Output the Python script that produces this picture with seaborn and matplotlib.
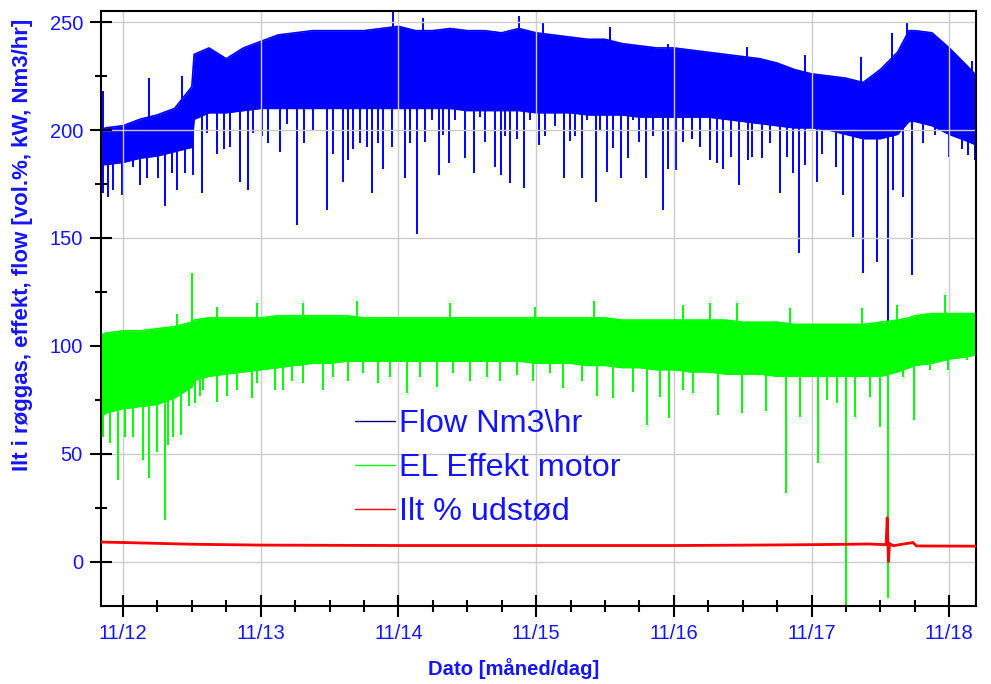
import numpy as np
import pandas as pd
import matplotlib
matplotlib.use("Agg")
import matplotlib.pyplot as plt
from matplotlib.lines import Line2D
from matplotlib.ticker import FixedLocator, MultipleLocator
import seaborn as sns

# ---------------- data (hours since 11/12 00:00) ----------------
hours = [-3.8, -3, 0, 3, 6, 9, 12, 12.4, 15, 18, 21, 24, 27, 30, 33, 36, 39, 42, 45, 48,
         51, 54, 57, 60, 63, 66, 69, 72, 75, 78, 81, 84, 87, 90, 93, 96, 99, 102, 105, 108,
         111, 114, 117, 120, 123, 126, 129, 132, 135, 137, 138, 141, 144, 147, 148.8]

# Flow Nm3/hr : dense core (top / bottom of the solid band)
flow_high = [200, 201, 202, 205, 207, 210, 220, 235, 238, 233, 238, 241, 244, 245, 246, 246, 246, 246, 247, 248,
             246, 246, 247, 246, 246, 245, 247, 245, 244, 243, 242, 242, 240, 239, 238, 238, 237, 236, 235, 234,
             233, 231, 228, 226, 225, 224, 222, 228, 236, 246, 246, 245, 238, 230, 225]
flow_low = [184, 184, 185, 187, 188, 190, 192, 205, 208, 208, 209, 210, 210, 210, 210, 210, 210, 210, 210, 210,
            210, 210, 210, 209, 209, 209, 209, 208, 208, 208, 207, 207, 207, 206, 206, 206, 206, 206, 205, 204,
            203, 202, 201, 201, 200, 198, 196, 196, 198, 204, 204, 202, 198, 195, 193]

# EL Effekt motor : dense core
el_high = [105, 106, 107, 107, 108, 109, 111, 112, 113, 113, 113, 113, 114, 114, 114, 114, 114, 113, 113, 113,
           113, 113, 113, 113, 113, 113, 113, 113, 113, 113, 113, 113, 112, 112, 112, 112, 112, 112, 112, 111,
           111, 111, 110, 110, 110, 110, 110, 111, 112, 113, 114, 115, 115, 115, 115]
el_low = [67, 69, 71, 72, 73, 76, 81, 84, 86, 87, 88, 89, 90, 91, 92, 92, 93, 93, 93, 93,
          93, 93, 93, 93, 93, 93, 93, 92, 92, 92, 91, 91, 90, 90, 89, 89, 88, 88, 87, 87,
          87, 86, 86, 86, 86, 86, 86, 86, 88, 90, 91, 92, 94, 95, 96]

# isolated downward strokes of the flow signal (time [h], value)
flow_dip_t = [-3.49, -2.61, -1.74, -0.17, 1.74, 2.96, 4.18, 6.10, 7.32, 8.54, 9.41, 10.81, 12.20, 13.77,
              14.64, 16.38, 17.60, 18.65, 20.39, 21.79, 22.66, 24.23, 25.27, 27.36, 28.58, 30.33, 31.55,
              33.12, 35.56, 36.60, 38.35, 39.22, 40.09, 41.31, 42.53, 43.40, 44.44, 45.32, 46.88, 49.15,
              50.02, 51.24, 52.64, 53.86, 55.08, 55.77, 56.82, 57.87, 59.61, 61.18, 62.22, 63.09, 64.84,
              65.88, 66.58, 67.45, 68.67, 69.89, 70.94, 72.50, 73.55, 75.29, 76.86, 77.91, 78.78, 80.00,
              80.87, 82.44, 83.14, 84.36, 85.40, 86.80, 88.02, 88.89, 89.93, 91.16, 92.38, 94.12, 94.99,
              96.38, 97.60, 99.17, 100.57, 102.31, 103.53, 104.58, 105.97, 107.37, 108.93, 109.63, 111.37,
              112.77, 114.51, 115.73, 116.78, 117.82, 118.87, 120.96, 121.83, 124.27, 125.49, 127.23,
              128.98, 131.42, 133.33, 134.20, 135.94, 137.51, 139.43, 141.52, 143.96, 146.23, 147.28, 148.50]
flow_dip_v = [171, 169, 172, 170, 183, 174.5, 178, 178, 165, 180, 172, 180, 179, 171,
              198.6, 189, 191, 192, 176, 172, 198.6, 197, 194, 190, 203, 156, 194,
              200, 163, 189, 176, 186, 191, 194, 192, 171, 194, 182, 192, 178,
              194, 152, 194.5, 204.6, 179, 197.7, 184.7, 204.6, 187, 180, 206, 194.5, 183,
              179, 197, 175.5, 196, 173, 204.6, 193, 197, 202, 178, 195, 197, 177.8,
              204.6, 166.7, 200, 180.6, 191.7, 178, 187, 204.6, 194.5, 177.8, 197, 163, 182,
              181.5, 194.5, 196, 192, 186, 184.7, 182, 187.5, 174.5, 186, 187.5, 187,
              194, 171, 187.5, 180, 143, 183.8, 176, 189, 183, 170, 150.5,
              134, 139, 90, 172, 169, 133, 194, 197.7, 187.5, 191, 188.4, 186]
# upward strokes of the flow signal
flow_peak_t = [-3.49, 4.53, 10.28, 47.06, 52.29, 69.02, 73.20, 84.88, 94.99, 108.76, 118.87, 128.63,
               134.03, 136.64, 147.97]
flow_peak_v = [218, 224, 225, 255, 252, 253, 250, 247.7, 240, 238.4, 234.7, 233.8,
               245, 249.6, 232]

el_dip_t = [-3.49, -2.27, -0.87, 0.35, 1.74, 3.49, 4.53, 5.93, 7.32, 7.84, 8.71, 10.11, 11.50, 12.55,
            13.42, 13.94, 16.38, 18.13, 19.87, 22.48, 23.36, 26.49, 27.89, 29.46, 31.37, 34.86, 36.60,
            39.22, 41.83, 44.44, 46.54, 49.50, 51.76, 54.73, 57.52, 60.48, 63.44, 65.71, 68.67, 71.46,
            74.42, 76.69, 80.00, 82.61, 85.40, 88.89, 91.33, 93.59, 95.16, 97.60, 99.35, 103.70,
            107.89, 112.07, 115.56, 118.00, 121.14, 122.70, 124.45, 126.01, 127.58, 130.19, 131.94,
            133.33, 135.94, 137.86, 140.65, 143.79, 147.10]
el_dip_v = [58, 55, 38, 58, 58, 47, 39, 51, 19.5, 54, 58, 59, 72, 73.6,
            77, 79.6, 74, 77, 79.6, 76, 83, 79.6, 79.6, 84, 82.8, 79.6, 85.7,
            84, 87.5, 83, 85.7, 78, 85.7, 81, 87.5, 84, 85.7, 84, 86.6, 84,
            87.5, 80.6, 84, 77, 76, 78.7, 63.4, 76.4, 66.7, 79.6, 78, 68,
            69, 70, 32, 67, 46, 75, 73.6, -20, 67, 76.4, 62.5,
            -16.7, 85.7, 65.7, 89, 89, 93.5]
el_peak_t = [9.41, 12.03, 16.38, 23.36, 31.37, 40.78, 56.99, 71.81, 82.09, 97.60, 102.31, 107.02,
             116.26, 128.81, 134.90, 143.27]
el_peak_v = [115, 134, 118, 120, 120, 121, 120, 118, 120.8, 119, 120, 120,
             117.6, 117.6, 119, 123.6]

ilt_t = [-3.8, 0, 12, 24, 48, 72, 96, 110, 120, 130, 133.0, 133.2, 133.4, 133.6, 134.2,
         137.7, 138.3, 148.8]
ilt_v = [9.2, 9.0, 8.2, 7.8, 7.6, 7.6, 7.6, 7.8, 8.0, 8.3, 8.0, 20.5, 0.2, 8.5, 7.5,
         9.0, 7.4, 7.3]

day_ticks = [0, 24, 48, 72, 96, 120, 144]
day_labels = ["11/12", "11/13", "11/14", "11/15", "11/16", "11/17", "11/18"]
series_names = ["Flow Nm3\\hr", "EL Effekt motor", "Ilt % udstød"]

# ---------------- style ----------------
sns.set_style("white")
plt.rcParams["font.family"] = ["Liberation Sans", "DejaVu Sans"]
BLUE = "#0000ff"
GREEN = "#00ff00"
RED = "#ff0000"
TXT = "#1414ff"

fig = plt.figure(figsize=(9.91, 6.84), dpi=100)
ax = fig.add_axes([101 / 991, 1 - 606 / 684, 875 / 991, 595 / 684])

h = np.array(hours, dtype=float)


def band(hi, lo, color, z):
    hi = np.array(hi, float)
    lo = np.array(lo, float)
    ax.fill_between(h, lo, hi, color=color, lw=0, zorder=z)
    df = pd.DataFrame({"t": np.concatenate([h, h]),
                       "v": np.concatenate([hi, lo]),
                       "edge": ["hi"] * len(h) + ["lo"] * len(h)})
    sns.lineplot(data=df, x="t", y="v", units="edge", estimator=None, color=color,
                 lw=1.2, ax=ax, zorder=z, legend=False)
    return (hi + lo) / 2


def strokes(ts, vs, mid, color, z):
    ts = np.array(ts, float)
    vs = np.array(vs, float)
    base = np.interp(ts, h, mid)
    ax.vlines(ts, np.minimum(base, vs), np.maximum(base, vs), color=color, lw=1.4, zorder=z)


mid_flow = band(flow_high, flow_low, BLUE, 1.0)
strokes(flow_dip_t, flow_dip_v, mid_flow, BLUE, 1.0)
strokes(flow_peak_t, flow_peak_v, mid_flow, BLUE, 1.0)
mid_el = band(el_high, el_low, GREEN, 2.0)
strokes(el_dip_t, el_dip_v, mid_el, GREEN, 2.0)
strokes(el_peak_t, el_peak_v, mid_el, GREEN, 2.0)
sns.lineplot(x=ilt_t, y=ilt_v, color=RED, lw=2.0, ax=ax, zorder=3, estimator=None, sort=False)

# ---------------- axes ----------------
ax.set_xlim(-3.83, 148.67)
ax.set_ylim(-20.4, 255.1)
ax.xaxis.set_major_locator(FixedLocator(day_ticks))
ax.set_xticklabels(day_labels)
ax.xaxis.set_minor_locator(MultipleLocator(6))
ax.yaxis.set_major_locator(MultipleLocator(50))
ax.yaxis.set_minor_locator(MultipleLocator(25))
ax.tick_params(which="major", direction="inout", length=16, width=1.5, color="black",
               labelsize=14.5, labelcolor=TXT, bottom=True, left=True, pad=5)
ax.tick_params(which="minor", direction="inout", length=9, width=1.5, color="black",
               bottom=True, left=True)
ax.set_axisbelow("line")
ax.grid(True, which="major", color="#cccccc", lw=1.0)
for s in ax.spines.values():
    s.set_color("black")
    s.set_linewidth(1.5)
    s.set_visible(True)

ax.set_xlabel("Dato [måned/dag]", color=TXT, fontsize=14.6, fontweight="bold")
ax.set_ylabel("Ilt i røggas, effekt, flow [vol.%, kW, Nm3/hr]", color=TXT, fontsize=16,
              fontweight="bold")
ax.xaxis.set_label_coords(0.472, -0.0874)
ax.yaxis.set_label_coords(-0.0777, 0.607)

handles = [Line2D([], [], color="#000080", lw=1),
           Line2D([], [], color=GREEN, lw=1),
           Line2D([], [], color=RED, lw=1)]
ax.legend(handles, series_names, loc="center left", bbox_to_anchor=(0.290, 0.232),
          frameon=False, fontsize=23.3, labelcolor=TXT, handlelength=1.23, handletextpad=0.15,
          labelspacing=0.43, borderpad=0, borderaxespad=0)

fig.savefig("out.png", dpi=100)
